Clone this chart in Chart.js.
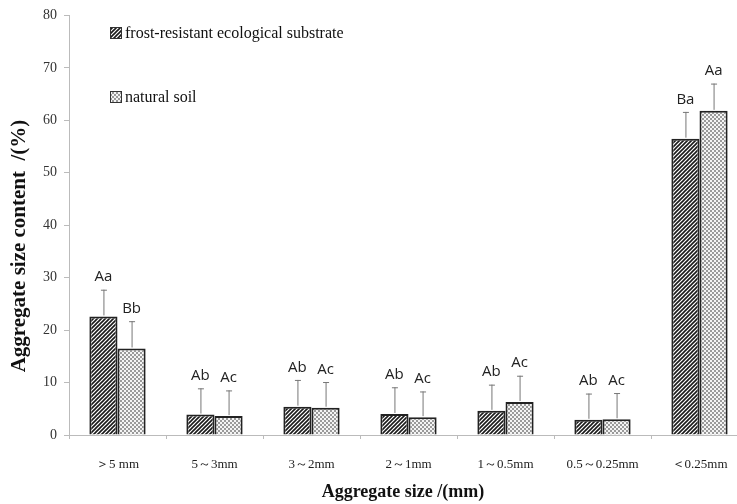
<!DOCTYPE html>
<html>
<head>
<meta charset="utf-8">
<script src="https://cdn.jsdelivr.net/npm/chart.js@4"></script>
<style>
  html, body { margin: 0; padding: 0; background: #fff; overflow: hidden; }
  #wrap { width: 748px; height: 504px; }
</style>
</head>
<body>
<div id="wrap"><canvas id="myChart" width="748" height="504"></canvas></div>
<script>
// categories and values
var sizeLabels = ["＞5 mm", "5～3mm", "3～2mm", "2～1mm", "1～0.5mm", "0.5～0.25mm", "＜0.25mm"];
var substrateData = [22.6, 3.9, 5.4, 4.0, 4.6, 2.9, 56.5];
var substrateErr = [5.1, 5.0, 5.1, 5.1, 5.0, 5.0, 5.1];
var soilData = [16.5, 3.6, 5.2, 3.4, 6.3, 3.0, 61.8];
var soilErr = [5.2, 4.9, 4.9, 4.9, 5.0, 5.0, 5.2];
var substrateLetters = ["Aa", "Ab", "Ab", "Ab", "Ab", "Ab", "Ba"];
var soilLetters = ["Bb", "Ac", "Ac", "Ac", "Ac", "Ac", "Aa"];
var yTicks = [0, 10, 20, 30, 40, 50, 60, 70, 80];

var serif = "'Liberation Serif', 'Times New Roman', serif";

// fill patterns
function hatchPattern() {
  var c = document.createElement("canvas");
  c.width = 4; c.height = 4;
  var g = c.getContext("2d");
  g.fillStyle = "#fff";
  g.fillRect(0, 0, 4, 4);
  g.strokeStyle = "#1a1a1a";
  g.lineWidth = 1.6;
  g.beginPath();
  g.moveTo(-1, 5); g.lineTo(5, -1);
  g.moveTo(-1, 1); g.lineTo(1, -1);
  g.moveTo(3, 5); g.lineTo(5, 3);
  g.stroke();
  return g.createPattern(c, "repeat");
}
function checkPattern() {
  var c = document.createElement("canvas");
  c.width = 4; c.height = 4;
  var g = c.getContext("2d");
  g.fillStyle = "#f4f4f4";
  g.fillRect(0, 0, 4, 4);
  g.fillStyle = "#9a9a9a";
  g.fillRect(0, 0, 2, 2);
  g.fillRect(2, 2, 2, 2);
  return g.createPattern(c, "repeat");
}
var hatch = hatchPattern();
var check = checkPattern();

// error bars and significance letters
var extras = {
  id: "extras",
  afterDatasetsDraw: function (chart) {
    var ctx = chart.ctx;
    var y = chart.scales.y;
    var errs = [substrateErr, soilErr];
    var letters = [substrateLetters, soilLetters];
    ctx.save();
    chart.data.datasets.forEach(function (ds, i) {
      chart.getDatasetMeta(i).data.forEach(function (bar, j) {
        var top = y.getPixelForValue(ds.data[j] + errs[i][j]);
        ctx.strokeStyle = "#777";
        ctx.lineWidth = 1;
        ctx.beginPath();
        ctx.moveTo(bar.x + 0.5, bar.y - 1);
        ctx.lineTo(bar.x + 0.5, top);
        ctx.moveTo(bar.x - 2.5, top + 0.5);
        ctx.lineTo(bar.x + 3.5, top + 0.5);
        ctx.stroke();
        ctx.fillStyle = "#222";
        ctx.font = "15px 'Open Sans', sans-serif";
        ctx.textAlign = "center";
        ctx.textBaseline = "bottom";
        ctx.fillText(letters[i][j], bar.x, top - 5);
      });
    });
    ctx.restore();
  },
  afterDraw: function (chart) {
    var ctx = chart.ctx;
    ctx.save();
    // legend
    var items = [[hatch, "frost-resistant ecological substrate", 33], [check, "natural soil", 97]];
    items.forEach(function (it) {
      ctx.fillStyle = it[0];
      ctx.fillRect(110, it[2] - 6, 12, 12);
      ctx.strokeStyle = "#333";
      ctx.lineWidth = 1;
      ctx.strokeRect(110.5, it[2] - 5.5, 11, 11);
      ctx.fillStyle = "#111";
      ctx.font = "16px " + serif;
      ctx.textAlign = "left";
      ctx.textBaseline = "middle";
      ctx.fillText(it[1], 125, it[2] + 1);
    });
    // axis titles
    ctx.fillStyle = "#111";
    ctx.font = "bold 18px " + serif;
    ctx.textAlign = "center";
    ctx.textBaseline = "middle";
    ctx.fillText("Aggregate size /(mm)", 403, 492);
    ctx.font = "bold 21px " + serif;
    ctx.translate(20, 246);
    ctx.rotate(-Math.PI / 2);
    ctx.fillText("Aggregate size content  /(%)", 0, 0);
    ctx.restore();
  }
};

const data = {
  labels: sizeLabels,
  datasets: [
    {
      label: "frost-resistant ecological substrate",
      data: substrateData,
      backgroundColor: hatch,
      borderColor: "#222",
      borderWidth: 2,
    },
    {
      label: "natural soil",
      data: soilData,
      backgroundColor: check,
      borderColor: "#222",
      borderWidth: 2,
    }
  ]
};

const config = {
  type: "bar",
  data: data,
  options: {
    responsive: false,
    animation: false,
    devicePixelRatio: 1,
    categoryPercentage: 0.58,
    barPercentage: 1,
    layout: { padding: { top: 7, right: 0, left: 0, bottom: 0 } },
    plugins: {
      legend: { display: false },
      tooltip: { enabled: false },
    },
    scales: {
      x: {
        grid: {
          drawOnChartArea: false,
          drawTicks: true,
          tickLength: 4,
          color: "#bbb",
        },
        border: { color: "#bbb", width: 1 },
        ticks: {
          color: "#222",
          font: { family: serif, size: 13 },
          padding: 18,
          maxRotation: 0,
          autoSkip: false,
        },
        afterFit: function (scale) { scale.height = 69; },
      },
      y: {
        min: 0,
        max: 80,
        afterBuildTicks: function (scale) {
          scale.ticks = yTicks.map(function (v) { return { value: v }; });
        },
        grid: {
          drawOnChartArea: false,
          drawTicks: true,
          tickLength: 5,
          color: "#bbb",
        },
        border: { color: "#bbb", width: 1 },
        ticks: {
          color: "#333",
          font: { family: serif, size: 14 },
          padding: 7,
        },
        afterFit: function (scale) { scale.width = 69; },
      },
    },
  },
  plugins: [extras],
};

var chart = new Chart("myChart", config);
</script>
</body>
</html>
